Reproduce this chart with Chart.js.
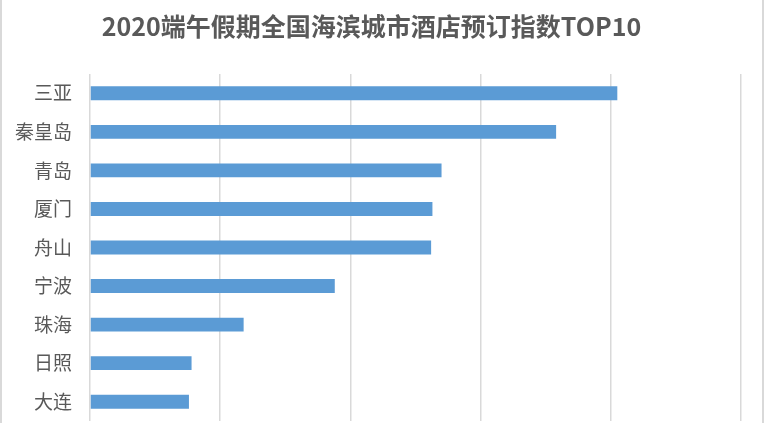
<!DOCTYPE html>
<html>
<head>
<meta charset="utf-8">
<script src="https://cdn.jsdelivr.net/npm/chart.js@4"></script>
<style>
  html, body { margin: 0; padding: 0; background: #fff; overflow: hidden; }
  #wrap { width: 764px; height: 423px; box-sizing: border-box; border-left: 2px solid #d9d9d9; border-right: 2px solid #d9d9d9; }
  canvas { display: block; }
</style>
</head>
<body>
<div id="wrap"><canvas id="chart" width="760" height="423"></canvas></div>
<script>
// cities, top to bottom
const cities = ['三亚', '秦皇岛', '青岛', '厦门', '舟山', '宁波', '珠海', '日照', '大连']
// booking index (grid step = 1)
const bookingIndex = [4.05, 3.58, 2.70, 2.63, 2.62, 1.88, 1.18, 0.78, 0.76]
const axisMax = 5

const grey = '#595959'
const font = '"Noto Sans CJK SC", "Microsoft YaHei", sans-serif'

new Chart(document.getElementById('chart').getContext('2d'), {
    type: 'bar',
    data: {
        labels: cities,
        datasets: [{
            label: '酒店预订指数',
            data: bookingIndex,
            backgroundColor: '#5b9bd5',
            barPercentage: 0.36,
            categoryPercentage: 1
        }]
    },
    options: {
        indexAxis: 'y',
        responsive: false,
        animation: false,
        layout: {padding: {left: 0, right: 21, top: 0, bottom: 0}},
        plugins: {
            legend: {display: false},
            tooltip: {enabled: false},
            title: {
                display: true,
                text: '2020端午假期全国海滨城市酒店预订指数TOP10',
                color: grey,
                font: {family: font, size: 25, weight: 'bold'},
                padding: {top: 11, bottom: 33}
            }
        },
        scales: {
            x: {
                min: 0,
                max: axisMax,
                ticks: {display: false, stepSize: 1},
                grid: {color: '#d9d9d9', lineWidth: 1.5, drawTicks: false},
                border: {display: false},
                afterFit: scale => { scale.height = 2 }
            },
            y: {
                // small lineHeight and tickLength instead of padding, so no space is kept below the plot
                ticks: {color: grey, font: {family: font, size: 19, lineHeight: 0.1}, padding: 0},
                grid: {display: false, drawTicks: true, tickLength: 18},
                border: {display: false},
                afterFit: scale => { scale.width = 88 }
            }
        }
    }
})
</script>
</body>
</html>
